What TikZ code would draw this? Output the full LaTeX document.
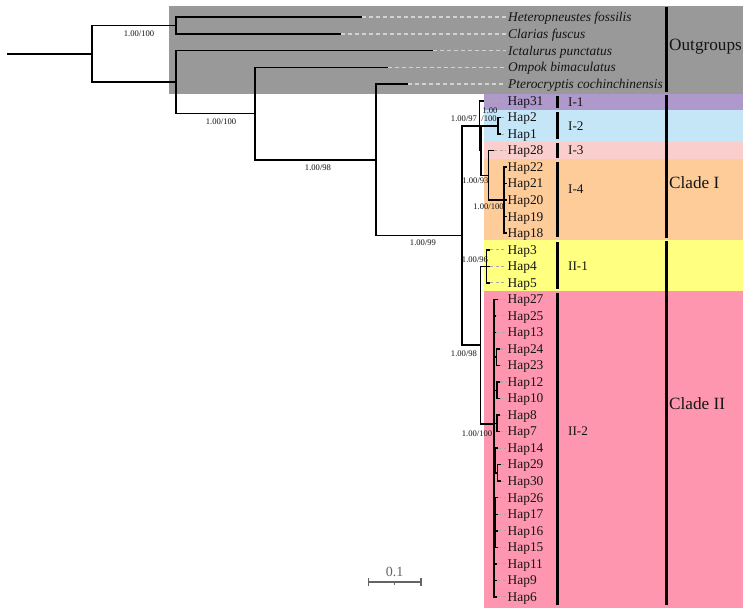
\documentclass[tikz,border=0pt]{standalone}
\usepackage{fontspec}
\setmainfont{Liberation Serif}
\definecolor{ogc}{RGB}{153,153,153}
\definecolor{cA}{RGB}{174,152,204}
\definecolor{cB}{RGB}{197,230,247}
\definecolor{cC}{RGB}{249,206,204}
\definecolor{cD}{RGB}{254,204,153}
\definecolor{cE}{RGB}{255,255,128}
\definecolor{cF}{RGB}{255,150,176}
\definecolor{txt}{RGB}{20,20,20}
\definecolor{dshc}{RGB}{168,168,168}
\definecolor{odshc}{RGB}{210,210,210}
\definecolor{scl}{RGB}{100,100,100}
\tikzset{
  br/.style={line width=1.5pt, draw=black},
  dsh/.style={line width=1.1pt, draw=dshc, dash pattern=on 3pt off 2.5pt},
  odsh/.style={line width=1.1pt, draw=odshc, dash pattern=on 4pt off 3pt},
  subbar/.style={line width=2.2pt, draw=black},
  cladebar/.style={line width=2.8pt, draw=black},
  supp/.style={inner sep=0pt, text=txt, font=\fontsize{8.6}{9}\selectfont},
  hap/.style={anchor=west, inner sep=0pt, text height=8.6pt, text depth=0pt, text=txt, font=\fontsize{13.4}{15}\selectfont},
  ogl/.style={hap, font=\fontsize{13.4}{15}\selectfont\itshape},
  subl/.style={anchor=west, inner sep=0pt, text=txt, font=\fontsize{13.2}{15}\selectfont},
  cladel/.style={anchor=west, inner sep=0pt, text=txt, font=\fontsize{17.2}{19}\selectfont}
}
\begin{document}
\begin{tikzpicture}[x=1pt,y=-1pt]
\useasboundingbox (0,0) rectangle (750,614);
\fill[white] (0,0) rectangle (750,614);
% bands
\fill[ogc] (169,6) rectangle (743,94);
\fill[cA] (484,94) rectangle (743,110);
\fill[cB] (484,110) rectangle (743,142);
\fill[cC] (484,142) rectangle (743,159);
\fill[cD] (484,159) rectangle (743,240);
\fill[cE] (484,240) rectangle (743,291);
\fill[cF] (484,291) rectangle (743,607.5);

% outgroup tips and labels
\coordinate (tHet) at (362,17);
\coordinate (tCla) at (341,34);
\coordinate (tIct) at (433,50.7);
\coordinate (tOmp) at (388,67.3);
\coordinate (tPte) at (408,84);
\node[ogl] (oHet) at (508,17) {Heteropneustes fossilis};
\node[ogl] (oCla) at (508,34) {Clarias fuscus};
\node[ogl] (oIct) at (508,50.7) {Ictalurus punctatus};
\node[ogl] (oOmp) at (508,67.3) {Ompok bimaculatus};
\node[ogl] (oPte) at (508,84) {Pterocryptis cochinchinensis};
\foreach \n in {Het,Cla,Ict,Omp,Pte}
  \draw[odsh] (t\n) -- ([xshift=-2pt]o\n.west);

% ingroup tips and labels
\foreach \n/\i/\tx in {31/0/484, 2/1/501, 1/2/501, 28/3/494, 22/4/506.5, 21/5/506.5, 20/6/506.5, 19/7/506.5, 18/8/506.5, 3/9/490, 4/10/490, 5/11/490, 27/12/497.5, 25/13/496, 13/14/496, 24/15/499.5, 23/16/499.5, 12/17/500, 10/18/500, 8/19/500, 7/20/500, 14/21/498, 29/22/500.5, 30/23/500.5, 26/24/498, 17/25/498, 16/26/498, 15/27/498, 11/28/497, 9/29/497, 6/30/497}{
  \pgfmathsetmacro\yy{101+16.53*\i}
  \coordinate (t\n) at (\tx,\yy);
  \node[hap] (h\n) at (507.5,\yy) {Hap\n};
}
\foreach \n in {31,2,1,28,3,4,5,27,25,13,24,23,12,10,8,7,14,29,30,26,17,16,15,11,9,6}
  \draw[dsh] (t\n) -- ([xshift=-1.5pt]h\n.west);

% internal nodes
\coordinate (r0) at (7,53.75);
\coordinate (R) at (92,53.75);
\coordinate (A) at (176,25.5);
\coordinate (B) at (176,82);
\coordinate (C) at (255,113.4);
\coordinate (D) at (376,159.75);
\coordinate (E) at (462,235.5);
\coordinate (F) at (479.5,125.8);
\coordinate (F2) at (481,150.6);
\coordinate (I2) at (498,125.8);
\coordinate (I34) at (488.5,175.4);
\coordinate (I4) at (504,200.18);
\coordinate (G) at (480.7,345.15);
\coordinate (II1) at (486.7,266.3);
\coordinate (II2) at (494,424);
\coordinate (n2423) at (496.5,357.2);
\coordinate (n1210) at (497,390.3);
\coordinate (n87) at (497,423.3);
\coordinate (n14) at (495.5,460.5);
\coordinate (n2930) at (497.5,472.9);
\coordinate (n26) at (495.5,522.5);

% branches
\draw[br] (r0) -- (R);
\foreach \p/\c in {R/A, R/B, A/tHet, A/tCla, B/tIct, B/C, C/tOmp, C/D, D/tPte, D/E,
  E/F, E/G, F/t31, F/F2, F2/I2, F2/I34, I2/t2, I2/t1, I34/t28, I34/I4,
  I4/t22, I4/t21, I4/t20, I4/t19, I4/t18,
  G/II1, G/II2, II1/t3, II1/t4, II1/t5,
  II2/t27, II2/t25, II2/t13, II2/n2423, II2/n1210, II2/n87, II2/n14, II2/n26, II2/t11, II2/t9, II2/t6,
  n2423/t24, n2423/t23, n1210/t12, n1210/t10, n87/t8, n87/t7,
  n14/t14, n14/n2930, n2930/t29, n2930/t30,
  n26/t26, n26/t17, n26/t16, n26/t15}
  \draw[br] (\p) |- (\c);

% support values
\node[supp] (s1) at (139,33.5) {1.00/100};
\node[supp] (s2) at (221,121.5) {1.00/100};
\node[supp] (s3) at (318,167.7) {1.00/98};
\node[supp] (s4) at (423,243) {1.00/99};
\node[supp] (s5) at (464,118.3) {1.00/97};
\node[supp] (s6) at (490,110.5) {1.00};
\node[supp] (s6b) at (489,119) {/100};
\node[supp] (s7) at (475.5,180.7) {1.00/93};
\node[supp] (s8) at (488.5,206.7) {1.00/100};
\node[supp] (s9) at (475,260) {1.00/96};
\node[supp] (s10) at (464,354) {1.00/98};
\node[supp] (s11) at (477,434) {1.00/100};

% subclade bars and labels
\draw[subbar] (557.5,96) -- (557.5,108);
\draw[subbar] (557.5,112) -- (557.5,139);
\draw[subbar] (557.5,143) -- (557.5,157.5);
\draw[subbar] (557.5,162) -- (557.5,237);
\draw[subbar] (557.5,242) -- (557.5,289);
\draw[subbar] (557.5,293) -- (557.5,605);
\node[subl] (k1) at (568,102) {I-1};
\node[subl] (k2) at (568,126.5) {I-2};
\node[subl] (k3) at (568,150) {I-3};
\node[subl] (k4) at (568,189) {I-4};
\node[subl] (k5) at (568,266.5) {II-1};
\node[subl] (k6) at (568,431) {II-2};

% clade bars and labels
\draw[cladebar] (666.5,6.5) -- (666.5,92);
\draw[cladebar] (666.5,95) -- (666.5,237.5);
\draw[cladebar] (666.5,241) -- (666.5,605);
\node[cladel] (c0) at (669,47) {Outgroups};
\node[cladel] (c1) at (669,183) {Clade I};
\node[cladel] (c2) at (669,404) {Clade II};

% scale bar
\draw[scl, line width=1.2pt] (368.5,582) -- (421,582);
\draw[scl, line width=1.2pt] (368.5,578) -- (368.5,586);
\draw[scl, line width=1.2pt] (421,578) -- (421,586);
\draw[scl, line width=0.8pt] (394.7,582) -- (394.7,585);
\node[inner sep=0pt, text=scl, font=\fontsize{14}{16}\selectfont] (sc) at (394.5,571.5) {0.1};
\end{tikzpicture}
\end{document}
